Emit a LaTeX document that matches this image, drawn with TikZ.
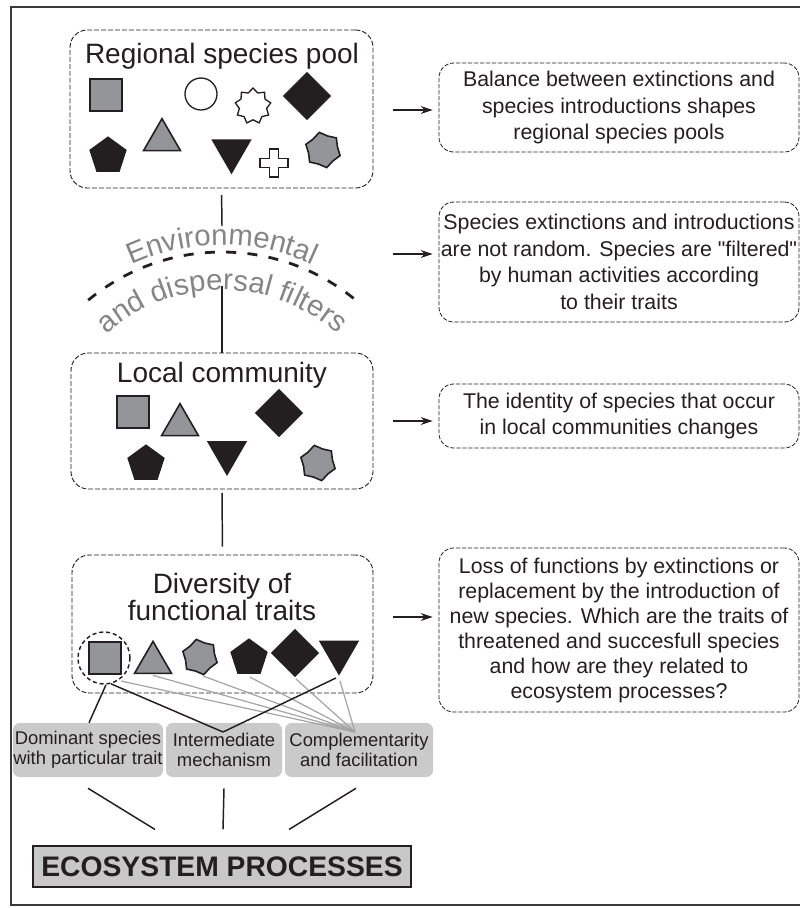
\documentclass[tikz,border=0pt]{standalone}
\usepackage{fontspec}
\setmainfont{Liberation Sans}[Ligatures=TeXOff]
\usetikzlibrary{shapes.geometric,decorations.text,arrows.meta,calc}
\definecolor{ink}{HTML}{231F20}
\definecolor{shapegray}{HTML}{939598}
\definecolor{tagfill}{HTML}{CACACA}
\definecolor{ecofill}{HTML}{C8C8C8}
\definecolor{linkgray}{HTML}{A3A3A3}
\definecolor{filtergray}{HTML}{858585}
\definecolor{framegray}{HTML}{3A3A3A}

\newcommand\headfont{\fontsize{21}{20.3}\selectfont}
\newcommand\notefont{\fontsize{16}{20}\selectfont}
\newcommand\notefontD{\fontsize{16}{18.75}\selectfont}
\newcommand\tagfont{\fontsize{13.8}{15}\selectfont}
\newcommand\ecofont{\fontsize{21.2}{25}\selectfont\bfseries}
\newcommand\filterfont{\fontsize{22}{25}\selectfont\color{filtergray}}

\tikzset{
  poolbox/.style={draw=ink, line width=0.7pt, dash pattern=on 3.7pt off 1.5pt,
    rounded corners=13pt, inner sep=0pt},
  notebox/.style={draw=ink, line width=0.6pt, dash pattern=on 3.2pt off 1.3pt,
    rounded corners=11pt, inner sep=0pt, align=center, font=\notefont, text=ink},
  head/.style={font=\headfont, text=ink, inner sep=0pt, align=center},
  tag/.style={fill=tagfill, rounded corners=5pt, inner sep=0pt, align=center,
    font=\tagfont, text=ink, minimum height=40.5pt},
  link/.style={draw=ink, line width=1.1pt},
  glink/.style={draw=linkgray, line width=0.9pt},
  note arrow/.style={draw=ink, line width=0.8pt, shorten >=4.5pt,
    -{Stealth[length=9pt,width=6pt,inset=3pt]}},
  sp/.style={draw=ink, line width=1.2pt, inner sep=0pt, outer sep=0pt},
  sqr/.style={sp, rectangle, fill=shapegray, minimum size=24pt},
  tri/.style={sp, regular polygon, regular polygon sides=3, fill=shapegray, minimum size=32pt},
  vtri/.style={sp, regular polygon, regular polygon sides=3, shape border rotate=180,
    fill=ink, minimum size=32.5pt},
  pent/.style={sp, regular polygon, regular polygon sides=5, fill=ink, minimum size=28pt},
  dia/.style={sp, diamond, fill=ink, minimum width=34.5pt, minimum height=34.5pt},
  hexa/.style={sp, star, star points=6, star point ratio=1.22, fill=shapegray,
    minimum size=27pt, shape border rotate=12},
  ring/.style={sp, circle, fill=white, line width=1pt, minimum size=24pt},
  burst/.style={sp, star, star points=9, star point ratio=1.3, fill=white,
    line width=1pt, minimum size=27pt},
  plus/.style={draw=ink, line width=1pt, fill=white},
  halo/.style={draw=ink, circle, line width=1.1pt, dash pattern=on 3pt off 2.2pt,
    inner sep=0pt, minimum size=39pt},
}

\begin{document}
\begin{tikzpicture}[x=0.75pt,y=-0.75pt]
\useasboundingbox (0,0) rectangle (800,908);
% outer frame
\draw[framegray, line width=1.5pt] (806,7) -- (11,7) -- (11,905) -- (806,905);

% ---------- regional species pool ----------
\node[poolbox, minimum width=227.25pt, minimum height=118.5pt] (pool) at (221.5,109) {};
\node[head, anchor=base] (poolhead) at (222,63) {Regional species pool};
\node[sqr]   (p1sq)   at (106,95) {};
\node[ring]  (p1ring) at (201,94) {};
\node[burst] (p1star) at (253,106) {};
\node[dia]   (p1dia)  at (307,96) {};
\node[pent]  (p1pent) at (108,156) {};
\node[tri]   (p1tri)  at (162,140) {};
\node[vtri]  (p1vtri) at (231.5,151) {};
\node[hexa]  (p1hex)  at (323,150) {};
\coordinate (p1plus) at (274,163);
\draw[plus] (p1plus) ++(-4.5,-14) -- ++(9,0) -- ++(0,9.5) -- ++(9.5,0) -- ++(0,9)
  -- ++(-9.5,0) -- ++(0,9.5) -- ++(-9,0) -- ++(0,-9.5) -- ++(-9.5,0) -- ++(0,-9)
  -- ++(9.5,0) -- cycle;

% ---------- filters ----------
\coordinate (filtTop) at (222,226);
\coordinate (filtBot) at (222,286);
\coordinate (arcC) at (222,462);
\draw[link, shorten <=5pt] (pool.south) -- (filtTop);
\draw[ink, line width=2.1pt, dash pattern=on 7.5pt off 8.5pt]
  ($(arcC)+(-129.6:210)$) arc[start angle=-129.6, end angle=-50.4, radius=210];
\path[decorate, decoration={text along path, text align=center,
    text={|\filterfont|Environmental}}]
  ($(arcC)+(-150:217)$) arc[start angle=-150, end angle=-30, radius=217];
\path[decorate, decoration={text along path, text align=center,
    text={|\filterfont|and dispersal filters}}]
  ($(arcC)+(-150:172)$) arc[start angle=-150, end angle=-30, radius=172];

% ---------- local community ----------
\node[poolbox, minimum width=226.5pt, minimum height=102pt] (local) at (222,421) {};
\draw[link] (filtBot) -- (local.north);
\node[head, anchor=base] (localhead) at (222,382) {Local community};
\node[sqr]  (l1sq)   at (133,412) {};
\node[tri]  (l1tri)  at (180,425) {};
\node[dia]  (l1dia)  at (279,413) {};
\node[pent] (l1pent) at (146,464) {};
\node[vtri] (l1vtri) at (227,452.7) {};
\node[hexa] (l1hex)  at (318,463) {};

% ---------- functional traits ----------
\node[poolbox, minimum width=225.75pt, minimum height=103.5pt] (traits) at (222.5,624) {};
\draw[link, shorten <=2.5pt, shorten >=6pt] (local.south) -- (traits.north);
\node[head] (traitshead) at (222,597) {Diversity of\\functional traits};
\node[halo] (t1halo) at (104,658) {};
\node[sqr]  (t1sq)   at (105,658) {};
\node[tri]  (t1tri)  at (153,662.7) {};
\node[hexa] (t1hex)  at (200,657) {};
\node[pent] (t1pent) at (249,658) {};
\node[dia]  (t1dia)  at (295,653) {};
\node[vtri] (t1vtri) at (339,652.3) {};

% ---------- mechanisms ----------
\node[tag, minimum width=112.5pt] (dom)   at (88,750)  {Dominant species\\with particular trait};
\node[tag, minimum width=87pt]    (inter) at (224,750) {Intermediate\\mechanism};
\node[tag, minimum width=111pt]   (comp)  at (359,750) {Complementarity\\and facilitation};
\coordinate (ipt) at (223,732);
\coordinate (cpt) at (355,732);

\draw[glink] ($(t1sq.south east)+(0,7)$) -- (cpt);
\draw[glink] ($(t1tri.south)+(0,2)$) -- (cpt);
\draw[glink] ($(t1hex.south)+(3,3)$) -- (cpt);
\draw[glink] ($(t1pent.south)+(1,4)$) -- (cpt);
\draw[glink] ($(t1dia.south)+(1,3)$) -- (cpt);
\draw[glink] ($(t1vtri.south)+(1,7)$) -- (cpt);
\draw[link] ($(t1halo.south)+(2,0)$) -- ($(dom.north)+(1,0)$);
\draw[link] (t1halo.-75) -- (ipt);
\draw[link] ($(t1vtri.south)+(-3,4)$) -- (ipt);

% ---------- ecosystem processes ----------
\node[draw=ink, fill=ecofill, line width=0.8pt, minimum width=283.5pt, minimum height=30.75pt,
  inner sep=0pt, font=\ecofont, text=ink] (eco) at (222,866.5) {ECOSYSTEM PROCESSES};
\draw[link] ($(dom.south)+(0,11)$) -- ($(eco.north)+(-67,-16)$);
\draw[link] ($(inter.south)+(0,11)$) -- ($(eco.north)+(1,-16)$);
\draw[link] ($(comp.south)+(-3,11)$) -- ($(eco.north)+(67,-16)$);

% ---------- notes ----------
\node[notebox, minimum width=270pt, minimum height=66.75pt] (noteA) at (619,107.5)
  {Balance between extinctions and\\species introductions shapes\\regional species pools};
\node[notebox, minimum width=270pt, minimum height=90pt] (noteB) at (619,262)
  {Species extinctions and introductions\\are not random. Species are "filtered"\\by human activities according\\to their traits};
\node[notebox, minimum width=270pt, minimum height=48pt] (noteC) at (619,416)
  {The identity of species that occur\\in local communities changes};
\node[notebox, font=\notefontD, minimum width=270pt, minimum height=123pt] (noteD) at (619,630)
  {Loss of functions by extinctions or\\replacement by the introduction of\\new species. Which are the traits of\\threatened and succesfull species\\and how are they related to\\ecosystem processes?};

\coordinate (arrA) at (393,110);
\coordinate (arrB) at (393,254);
\coordinate (arrC) at (393,421);
\coordinate (arrD) at (393,617);
\draw[note arrow] (arrA) -- (arrA -| noteA.west);
\draw[note arrow] (arrB) -- (arrB -| noteB.west);
\draw[note arrow] (arrC) -- (arrC -| noteC.west);
\draw[note arrow] (arrD) -- (arrD -| noteD.west);
\end{tikzpicture}
\end{document}
